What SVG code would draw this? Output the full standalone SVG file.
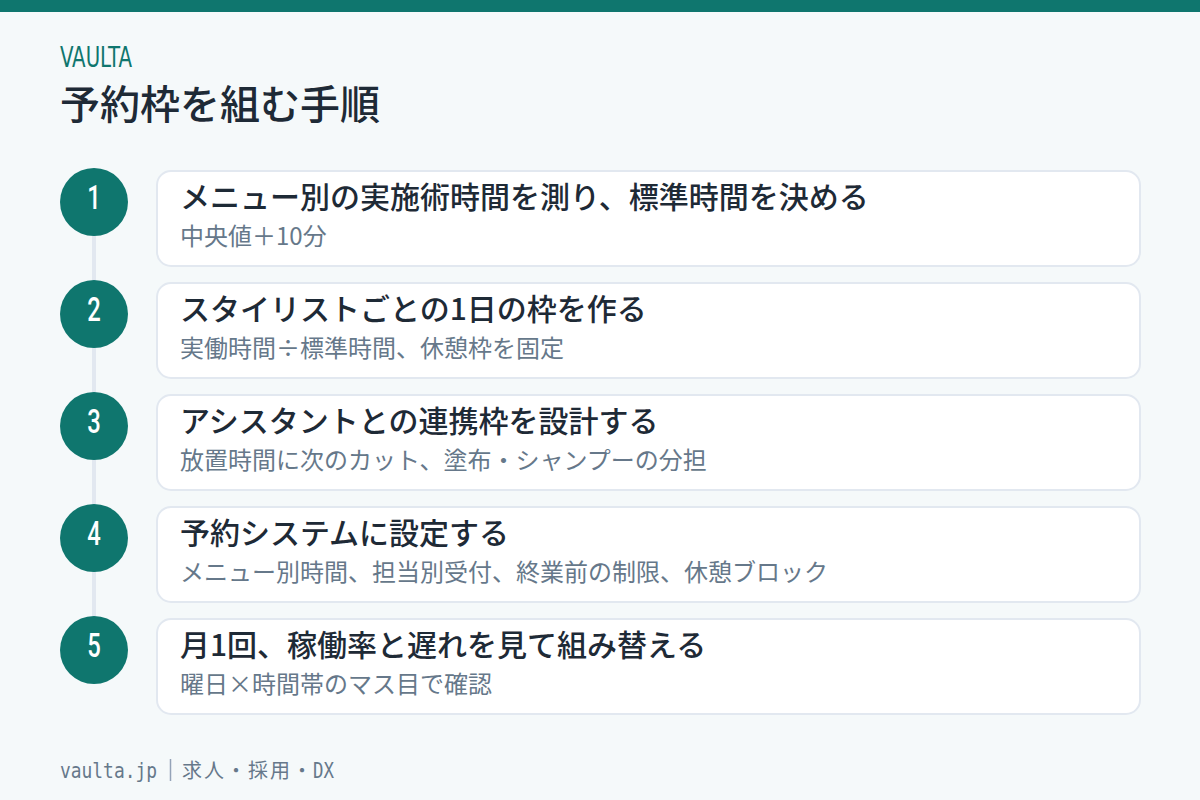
<svg xmlns="http://www.w3.org/2000/svg" width="1200" height="800" viewBox="0 0 1200 800">
<style>
.t{font-family:"Noto Sans CJK JP","Noto Sans",sans-serif;font-size:30px;font-weight:500;fill:#1e2a36}
.s{font-family:"Noto Sans CJK JP","Noto Sans",sans-serif;font-size:24px;fill:#66788a}
.card{fill:#ffffff;stroke:#e2e8f0;stroke-width:2}
.dot{fill:#0f766e}
.n{font-family:Roboto,"Liberation Sans",sans-serif;font-size:34px;font-weight:500;fill:#ffffff;text-anchor:middle}
.f{font-family:"DejaVu Sans Mono","Noto Sans CJK JP",monospace;font-size:21px;fill:#66788a}
.fc{font-family:"Noto Sans CJK JP",sans-serif;font-size:20px;fill:#66788a}
</style>
<rect width="1200" height="800" fill="#f5f9fa"/>
<rect width="1200" height="12" fill="#0f766e"/>
<text x="60" y="67" font-family="'DejaVu Sans Condensed','DejaVu Sans',sans-serif" font-size="28" fill="#0f766e" textLength="72" lengthAdjust="spacingAndGlyphs">VAULTA</text>
<text x="60" y="119" font-family="'Noto Sans CJK JP',sans-serif" font-size="40" font-weight="500" fill="#1e2a36">予約枠を組む手順</text>
<g id="connectors"><line x1="94" y1="202" x2="94" y2="650" stroke="#e2e8f0" stroke-width="4"/></g>
<g id="step1"><circle class="dot" cx="94" cy="202" r="34"/><text class="n" transform="translate(94,209) scale(0.7,1)">1</text><rect class="card" x="157" y="171" width="983" height="95" rx="14"/><text class="t" x="180" y="208">メニュー別の実施術時間を測り、標準時間を決める</text><text class="s" x="180" y="245">中央値＋10分</text></g>
<g id="step2"><circle class="dot" cx="94" cy="314" r="34"/><text class="n" transform="translate(94,321) scale(0.7,1)">2</text><rect class="card" x="157" y="283" width="983" height="95" rx="14"/><text class="t" x="180" y="320">スタイリストごとの1日の枠を作る</text><text class="s" x="180" y="357">実働時間÷標準時間、休憩枠を固定</text></g>
<g id="step3"><circle class="dot" cx="94" cy="426" r="34"/><text class="n" transform="translate(94,433) scale(0.7,1)">3</text><rect class="card" x="157" y="395" width="983" height="95" rx="14"/><text class="t" x="180" y="432">アシスタントとの連携枠を設計する</text><text class="s" x="180" y="469">放置時間に次のカット、塗布・シャンプーの分担</text></g>
<g id="step4"><circle class="dot" cx="94" cy="538" r="34"/><text class="n" transform="translate(94,545) scale(0.7,1)">4</text><rect class="card" x="157" y="507" width="983" height="95" rx="14"/><text class="t" x="180" y="544">予約システムに設定する</text><text class="s" x="180" y="581">メニュー別時間、担当別受付、終業前の制限、休憩ブロック</text></g>
<g id="step5"><circle class="dot" cx="94" cy="650" r="34"/><text class="n" transform="translate(94,657) scale(0.7,1)">5</text><rect class="card" x="157" y="619" width="983" height="95" rx="14"/><text class="t" x="180" y="656">月1回、稼働率と遅れを見て組み替える</text><text class="s" x="180" y="693">曜日×時間帯のマス目で確認</text></g>
<g id="footer"><text class="f" x="60" y="778" textLength="97" lengthAdjust="spacingAndGlyphs">vaulta.jp</text><line x1="170.5" y1="759" x2="170.5" y2="781" stroke="#94a3b8" stroke-width="1.5"/><text class="fc" x="182" y="778" textLength="130">求人・採用・</text><text class="f" x="313" y="778" textLength="21" lengthAdjust="spacingAndGlyphs">DX</text></g>
</svg>
